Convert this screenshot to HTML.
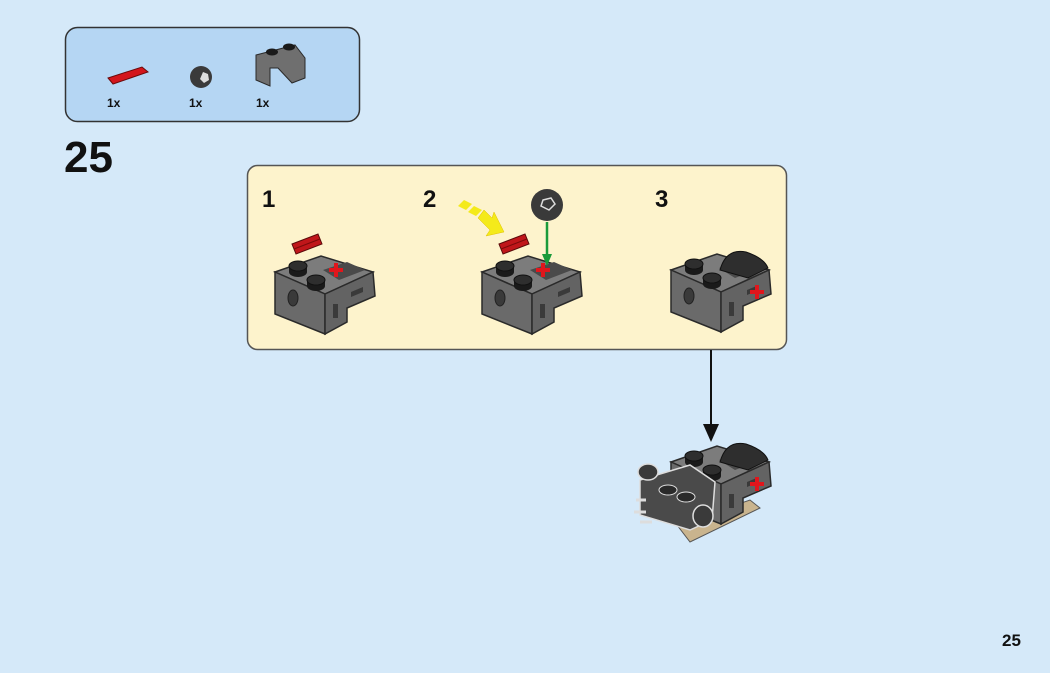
<!DOCTYPE html>
<html><head><meta charset="utf-8"><style>
html,body{margin:0;padding:0;background:#d5e9f9;}
body{width:1050px;height:673px;position:relative;overflow:hidden;font-family:"Liberation Sans",sans-serif;}
.t{position:absolute;font-weight:bold;color:#111;}
</style></head><body>
<svg width="1050" height="673" style="position:absolute;left:0;top:0">
<defs>
<g id="brick">
  <polygon points="0,20 46,4 98,20 50,42" fill="#7c7c7c" stroke="#2a2a2a" stroke-width="1.5"/>
  <polygon points="0,20 50,42 50,82 0,62" fill="#6a6a6a" stroke="#2a2a2a" stroke-width="1.5"/>
  <polygon points="50,42 98,20 100,44 72,56 72,70 50,82" fill="#636363" stroke="#2a2a2a" stroke-width="1.5"/>
  <polygon points="48,18 72,10 90,18 64,28" fill="#4a4a4a"/>
  <ellipse cx="18" cy="46" rx="5" ry="8" fill="#3a3a3a" stroke="#222"/>
  <rect x="58" y="52" width="5" height="14" fill="#3a3a3a"/>
  <path d="M76,40 l12,-5 l0,5 l-12,5z" fill="#3a3a3a"/>
  <rect x="14" y="14" width="18" height="6" fill="#1a1a1a"/>
  <ellipse cx="23" cy="20" rx="9" ry="5" fill="#1a1a1a"/>
  <ellipse cx="23" cy="14" rx="9" ry="5" fill="#2e2e2e" stroke="#111"/>
  <rect x="32" y="28" width="18" height="6" fill="#1a1a1a"/>
  <ellipse cx="41" cy="34" rx="9" ry="5" fill="#1a1a1a"/>
  <ellipse cx="41" cy="28" rx="9" ry="5" fill="#2e2e2e" stroke="#111"/>
</g>
<g id="cross"><path d="M-2,-7h4v5h5v4h-5v5h-4v-5h-5v-4h5z" fill="#e0161c"/></g>
<g id="axle"><polygon points="0,8 26,-2 30,8 4,18" fill="#c0161a" stroke="#5a0a0a"/><line x1="2" y1="13" x2="28" y2="3" stroke="#7a0a0a"/></g>
</defs>
<!-- parts box -->
<rect x="65.5" y="27.5" width="294" height="94" rx="12" fill="#b5d6f3" stroke="#333" stroke-width="1.5"/>
<polygon points="108,78 142,67 148,72 113,84" fill="#d3161c" stroke="#6a0a0a"/>
<circle cx="201" cy="77" r="11" fill="#3a3a3a"/>
<path d="M203,72 l5,2 l1,6 l-5,3 l-4,-4z" fill="#ddd"/>
<polygon points="256,55 295,45 305,58 305,78 292,83 278,68 270,68 270,86 256,80" fill="#6f6f6f" stroke="#2a2a2a"/>
<ellipse cx="272" cy="52" rx="6" ry="3.5" fill="#1a1a1a"/><ellipse cx="289" cy="47" rx="6" ry="3.5" fill="#1a1a1a"/>
<!-- step panel -->
<rect x="247.5" y="165.5" width="539" height="184" rx="10" fill="#fdf3cc" stroke="#555" stroke-width="1.5"/>
<!-- step1 -->
<use href="#axle" x="292" y="236"/>
<use href="#brick" x="275" y="252"/>
<use href="#cross" x="336" y="270"/>
<!-- step2 -->
<use href="#axle" x="499" y="236"/>
<use href="#brick" x="482" y="252"/>
<use href="#cross" x="543" y="270"/>
<path d="M458,206 l6,-6 l8,4 l-6,6z M468,212 l6,-6 l8,4 l-6,6z" fill="#f4ea1a"/>
<polygon points="478,218 484,210 492,218 494,212 504,232 486,236 490,230" fill="#f4ea1a" stroke="#e0c000" stroke-width="0.5"/>
<circle cx="547" cy="205" r="16" fill="#3a3a3a"/>
<path d="M543,200 l8,-2 l4,6 l-6,6 l-8,-4z" fill="none" stroke="#ddd" stroke-width="1.5"/>
<line x1="547" y1="222" x2="547" y2="262" stroke="#1a9a3a" stroke-width="2.5"/>
<polygon points="542,254 552,254 547,266" fill="#1a9a3a"/>
<!-- step3 -->
<use href="#brick" x="671" y="250"/>
<path d="M720,270 q6,-22 26,-18 q18,6 22,16 l-20,10z" fill="#2e2e2e" stroke="#111"/>
<use href="#cross" x="757" y="292"/>
<!-- arrow -->
<line x1="711" y1="350" x2="711" y2="428" stroke="#111" stroke-width="2"/>
<polygon points="703,424 719,424 711,442" fill="#111"/>
<!-- final -->
<polygon points="677,525 750,500 760,508 690,542" fill="#c9b48e" stroke="#555"/>
<use href="#brick" x="671" y="442"/>
<path d="M720,462 q6,-22 26,-18 q18,6 22,16 l-20,10z" fill="#2e2e2e" stroke="#111"/>
<use href="#cross" x="757" y="484"/>
<polygon points="640,480 690,465 715,482 712,520 690,530 640,515" fill="#4a4a4a" stroke="#ddd" stroke-width="1.5"/>
<ellipse cx="648" cy="472" rx="10" ry="8" fill="#3a3a3a" stroke="#ddd" stroke-width="1.5"/>
<ellipse cx="703" cy="516" rx="10" ry="11" fill="#3a3a3a" stroke="#ddd" stroke-width="1.5"/>
<ellipse cx="668" cy="490" rx="9" ry="5" fill="#2a2a2a" stroke="#ddd"/>
<ellipse cx="686" cy="497" rx="9" ry="5" fill="#2a2a2a" stroke="#ddd"/>
<path d="M636,500 h10 M634,512 h12 M640,522 h12" stroke="#ddd" stroke-width="3"/>
</svg>
<div class="t" style="left:107px;top:96px;font-size:12px">1x</div>
<div class="t" style="left:189px;top:96px;font-size:12px">1x</div>
<div class="t" style="left:256px;top:96px;font-size:12px">1x</div>
<div class="t" style="left:64px;top:134px;font-size:44px;line-height:48px">25</div>
<div class="t" style="left:262px;top:186px;font-size:24px">1</div>
<div class="t" style="left:423px;top:186px;font-size:24px">2</div>
<div class="t" style="left:655px;top:186px;font-size:24px">3</div>
<div class="t" style="left:1002px;top:631px;font-size:17px">25</div>
</body></html>
